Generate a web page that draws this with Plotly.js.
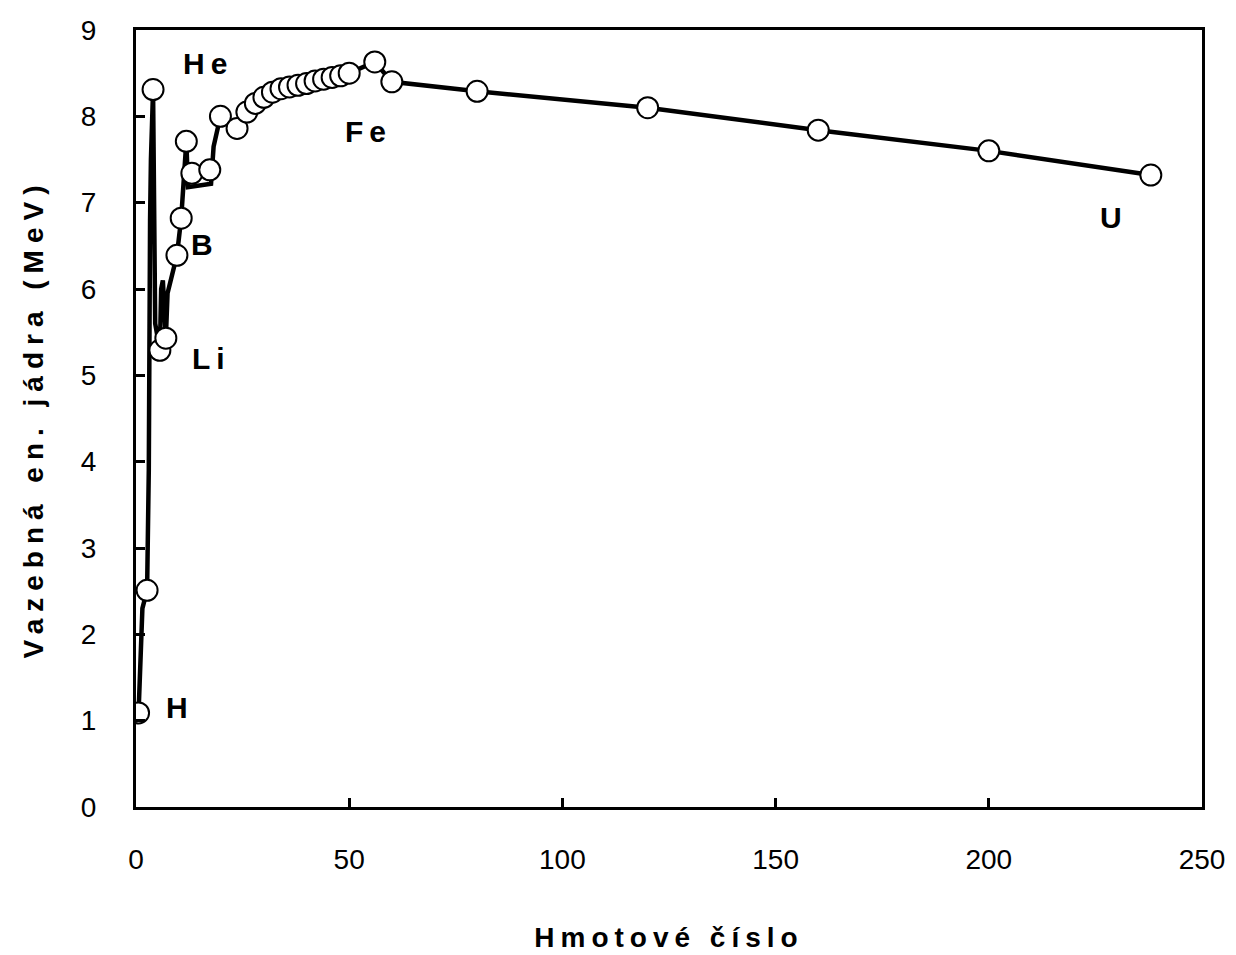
<!DOCTYPE html>
<html>
<head>
<meta charset="utf-8">
<script src="https://cdn.plot.ly/plotly-3.0.1.min.js"></script>
<style>
  html, body { margin: 0; padding: 0; background: #fff; }
  #chart { width: 1236px; height: 955px; }
  .xtitle { letter-spacing: 6px; }
  .ytitle { letter-spacing: 7px; }
  .annotation-text { letter-spacing: 6px; }
</style>
</head>
<body>
<div id="chart"></div>
<script>
// Mass number (A) and binding energy per nucleon (MeV) — marked points
const massNumber = [0.6, 2.6, 4.0, 5.6, 7.0, 9.6, 10.6, 11.8, 13.1, 17.3, 19.8, 23.7,
  26, 28, 30, 32, 34, 36, 38, 40, 42, 44, 46, 48, 50, 56, 60, 80, 120, 160, 200, 238];
const bindingEnergy = [1.09, 2.51, 8.31, 5.29, 5.43, 6.39, 6.82, 7.71, 7.34, 7.38, 8.0, 7.86,
  8.05, 8.15, 8.22, 8.28, 8.32, 8.34, 8.36, 8.38, 8.41, 8.43, 8.45, 8.47, 8.5, 8.63, 8.40, 8.29, 8.10, 7.84, 7.60, 7.32];

// Connecting polyline as drawn (includes unmarked turning points of the line)
const lineA = [0.6, 1.0, 1.5, 2.6, 3.0, 3.3, 3.5, 4.0, 4.3, 4.5, 5.6, 5.9, 6.3, 7.0, 7.4, 8.2, 9.6, 10.6, 11.2, 11.8,
  12.2, 17.6, 18.2, 19.8, 23.7,
  26, 28, 30, 32, 34, 36, 38, 40, 42, 44, 46, 48, 50, 56, 60, 80, 120, 160, 200, 238];
const lineE = [1.09, 1.75, 2.3, 2.51, 3.9, 6.8, 7.5, 8.31, 7.0, 5.6, 5.29, 6.0, 6.1, 5.43, 5.95, 6.1, 6.39, 6.82, 7.2, 7.71,
  7.18, 7.22, 7.65, 8.0, 7.86,
  8.05, 8.15, 8.22, 8.28, 8.32, 8.34, 8.36, 8.38, 8.41, 8.43, 8.45, 8.47, 8.5, 8.63, 8.40, 8.29, 8.10, 7.84, 7.60, 7.32];

const labelText = ['He', 'Fe', 'B', 'Li', 'H', 'U'];
const labelA = [17.0, 54.6, 16.2, 17.8, 10.3, 229.3];
const labelE = [8.61, 7.83, 6.52, 5.20, 1.15, 6.83];

const xTicks = [0, 50, 100, 150, 200, 250];
const yTicks = [0, 1, 2, 3, 4, 5, 6, 7, 8, 9];

const tickFont = { family: 'Liberation Sans, Arial, sans-serif', size: 28, color: '#000' };
const titleFont = { family: 'Liberation Sans, Arial, sans-serif', size: 28, color: '#000', weight: 'bold' };
const labelFont = { family: 'Liberation Sans, Arial, sans-serif', size: 30, color: '#000', weight: 'bold' };

const traces = [
  {
    x: lineA, y: lineE, type: 'scatter', mode: 'lines',
    line: { color: '#000', width: 4.5 }, hoverinfo: 'skip', showlegend: false
  },
  {
    x: massNumber, y: bindingEnergy, type: 'scatter', mode: 'markers',
    marker: { symbol: 'circle', size: 21, color: '#fff', line: { color: '#000', width: 2 } },
    showlegend: false
  }
];

const annotations = labelText.map((t, i) => ({
  x: labelA[i], y: labelE[i], xref: 'x', yref: 'y', text: '<b>' + t + '</b>',
  showarrow: false, font: labelFont, xanchor: 'center', yanchor: 'middle'
}));

const layout = {
  width: 1236, height: 955,
  margin: { l: 136, r: 34, t: 30, b: 148 },
  paper_bgcolor: '#fff', plot_bgcolor: '#fff',
  showlegend: false,
  xaxis: {
    range: [0, 250], tickvals: xTicks, ticktext: xTicks.map(String),
    ticks: 'inside', ticklen: 9, tickwidth: 3, tickcolor: '#000',
    showline: true, linewidth: 3, linecolor: '#000', mirror: true,
    showgrid: false, zeroline: false, tickfont: tickFont, ticklabelstandoff: 25,
    title: { text: '<b>Hmotové číslo</b>', font: titleFont, standoff: 54 }
  },
  yaxis: {
    range: [0, 9], tickvals: yTicks, ticktext: yTicks.map(String),
    ticks: 'inside', ticklen: 9, tickwidth: 3, tickcolor: '#000',
    showline: true, linewidth: 3, linecolor: '#000', mirror: true,
    showgrid: false, zeroline: false, tickfont: tickFont, ticklabelstandoff: 31,
    title: { text: '<b>Vazebná en. jádra (MeV)</b>', font: titleFont, standoff: 30 }
  },
  annotations: annotations
};

Plotly.newPlot('chart', traces, layout, { displayModeBar: false, staticPlot: true });
</script>
</body>
</html>
